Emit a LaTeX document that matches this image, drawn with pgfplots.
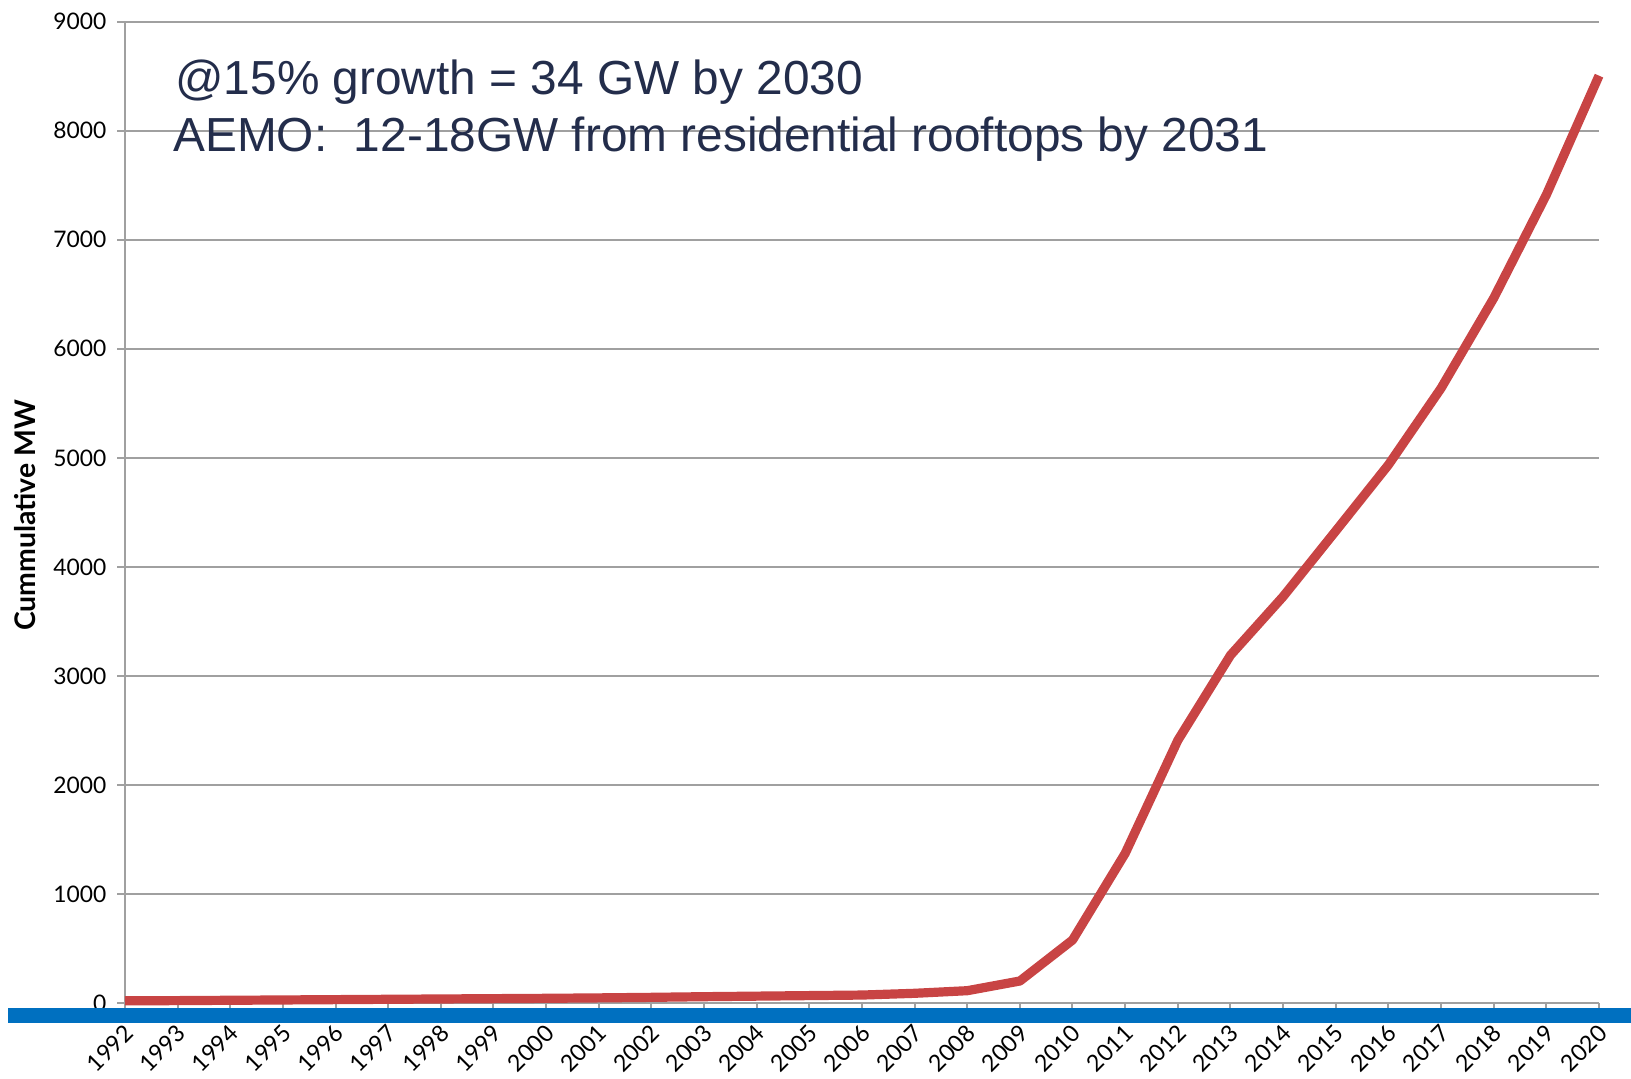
\documentclass[border=0pt]{standalone}
\usepackage{fontspec}
\setmainfont{Liberation Sans}
\newfontfamily\tickfont{Lato}
\usepackage{pgfplots}
\pgfplotsset{compat=1.18}

\definecolor{seriesred}{RGB}{200,68,68}
\definecolor{barblue}{RGB}{0,112,192}
\definecolor{gridgray}{RGB}{160,160,160}
\definecolor{notenavy}{RGB}{35,45,75}

\begin{document}
\begin{tikzpicture}
\useasboundingbox (-62.5pt,-37.5pt) rectangle (753pt,501.5pt);
\begin{axis}[
  at={(0pt,0pt)}, anchor=south west,
  scale only axis, width=737pt, height=490.65pt,
  xmin=1992, xmax=2020, ymin=0, ymax=9000,
  xtick={1992,...,2020},
  ytick={0,1000,...,9000},
  axis lines*=left,
  axis line style={gridgray, line width=1pt},
  ymajorgrids,
  grid style={gridgray, line width=1pt},
  tick align=outside,
  major tick length=3.8pt,
  tick style={gridgray, line width=1pt},
  /pgf/number format/assume math mode=true,
  /pgf/number format/1000 sep={},
  ticklabel style={text=black},
  yticklabel style={xshift=-2pt, font=\tickfont\fontsize{11.4}{13}\selectfont},
  xticklabel style={rotate=45, anchor=north east, inner sep=1pt,
    yshift=-2.5pt, xshift=-4pt,
    font=\tickfont\fontsize{11.6}{13}\selectfont},
  ylabel={Cummulative MW},
  ylabel style={at={(axis description cs:-0.0678,0.497)}, anchor=center,
    font=\tickfont\bfseries\fontsize{14.2}{16}\selectfont},
  clip=false,
]
\addplot[seriesred, line width=4.6pt, line join=round] coordinates {
  (1992,20) (1993,22) (1994,25) (1995,28) (1996,31) (1997,34) (1998,37)
  (1999,40) (2000,43) (2001,47) (2002,52) (2003,58) (2004,63) (2005,68)
  (2006,73) (2007,89) (2008,113) (2009,202) (2010,578) (2011,1373)
  (2012,2410) (2013,3190) (2014,3728) (2015,4330) (2016,4936)
  (2017,5639) (2018,6465) (2019,7413) (2020,8505)
};
\end{axis}
% blue band under the category axis
\fill[barblue] (-58.5pt,-10pt) rectangle (753pt,-2.6pt);
% annotation
\node[anchor=base west, inner sep=0pt, text=notenavy, font=\fontsize{23.9}{28}\selectfont]
  at (25pt,454pt) {@15\% growth = 34 GW by 2030};
\node[anchor=base west, inner sep=0pt, text=notenavy, font=\fontsize{23.9}{28}\selectfont]
  at (24pt,425.5pt) {AEMO:\ \ 12-18GW from residential rooftops by 2031};
\end{tikzpicture}
\end{document}
